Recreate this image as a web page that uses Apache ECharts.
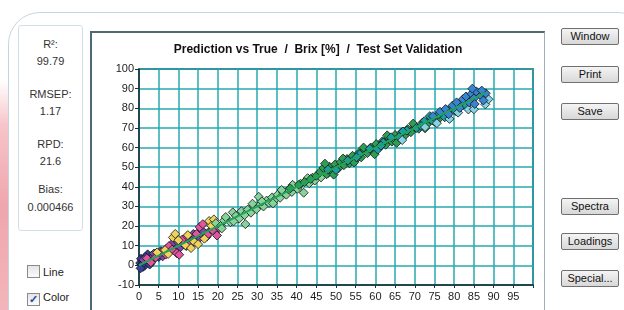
<!DOCTYPE html>
<html>
<head>
<meta charset="utf-8">
<script src="https://cdn.jsdelivr.net/npm/echarts@6/dist/echarts.min.js"></script>
<style>
  body { margin:0; width:624px; height:310px; overflow:hidden; background:#fff;
         font-family:"Liberation Sans", Arial, sans-serif; position:relative; }
  .pink { position:absolute; left:0; top:80px; width:40px; height:230px;
          background:linear-gradient(to bottom, #fff 0%, #f6c4c9 20%, #ef a6ae 55%, #f3b5bb 100%);
          background:linear-gradient(to bottom, #fff 0%, #f6c4c9 20%, #efa6ae 55%, #f3b5bb 100%); }
  .outer { position:absolute; left:8px; top:12px; width:640px; height:330px; background:#fff;
           border:1.5px solid #c9d5dd; border-radius:32px; }
  .stats { position:absolute; left:18px; top:25px; width:63px; height:204px;
           border:1px solid #d3dfe6; border-radius:3px; background:#fff;
           font-size:11px; color:#333; text-align:center; }
  .stats div { position:absolute; left:0; width:63px; }
  .cb { position:absolute; left:27px; font-size:11px; color:#222; }
  .cb span.box { display:inline-block; width:11px; height:11px; border:1px solid #8a8a8a;
                 background:linear-gradient(#e6e6e6,#fafafa); vertical-align:-2px; margin-right:3px;
                 font-size:11px; line-height:11px; color:#2a4aa0; text-align:center; font-weight:bold; }
  .frame { position:absolute; left:90px; top:31px; width:452px; height:285px; background:#fff;
           border-left:2px solid #4d6877; border-top:2px solid #4d6877; border-right:1px solid #9fb0ba; }
  #main { position:absolute; left:0; top:0; width:452px; height:279px; }
  .btn { position:absolute; left:561px; width:56px; height:15px; font-size:11px; line-height:15px;
         text-align:center; color:#111; border:1px solid #707070; border-radius:2px;
         background:linear-gradient(#f4f4f4,#d8d8d8); }
</style>
</head>
<body>
<div class="pink"></div>
<div class="outer"></div>
<div class="stats">
  <div style="top:12px">R²:</div>
  <div style="top:29px">99.79</div>
  <div style="top:62px">RMSEP:</div>
  <div style="top:79px">1.17</div>
  <div style="top:112px">RPD:</div>
  <div style="top:129px">21.6</div>
  <div style="top:157px">Bias:</div>
  <div style="top:175px">0.000466</div>
</div>
<div class="cb" style="top:265px"><span class="box"></span>Line</div>
<div class="cb" style="top:291px"><span class="box">✓</span>Color</div>
<div class="frame"><div id="main"></div></div>
<div class="btn" style="top:28px">Window</div>
<div class="btn" style="top:66px">Print</div>
<div class="btn" style="top:103px">Save</div>
<div class="btn" style="top:198px">Spectra</div>
<div class="btn" style="top:233px">Loadings</div>
<div class="btn" style="top:270px">Special...</div>
<script>
// measured (true) vs predicted Brix, grouped by marker colour
var darkBlue = [[0.3,1.2],[0.6,0.2],[0.8,2.5],[1.0,-0.8],[1.2,1.6],[1.5,3.2],[1.8,0.9],[2.0,2.4],[2.3,4.1],[2.6,1.8],[2.9,3.4],[3.2,5.0],[3.6,2.9],[4.0,4.6],[4.4,6.1],[0.5,3.4],[1.4,-0.2],[2.2,5.6],[3.0,1.2],[0.9,0.6],[0.4,-1.5],[1.6,4.4],[2.7,0.4],[5.0,4.2],[5.6,6.4]];
var purple = [[1.1,2.8],[2.4,3.0],[3.4,4.2],[4.8,5.5],[5.5,7.2],[6.2,5.4],[7.0,8.6],[7.8,7.0],[8.8,9.5],[9.5,11.2],[10.4,9.0],[11.5,12.8],[12.6,11.0],[13.5,14.4],[14.2,12.2],[15.5,15.0],[16.8,16.2],[18.0,17.5],[3.8,6.0],[6.0,4.6],[8.2,10.6],[9.0,7.6],[10.8,11.8],[12.0,9.8],[13.8,16.0],[15.0,13.2],[16.0,17.8],[17.2,14.6]];
var pink = [[2.0,3.6],[4.2,4.0],[5.8,6.8],[7.6,9.8],[8.4,8.0],[9.6,6.2],[10.2,5.4],[11.0,13.2],[12.2,14.8],[13.0,10.6],[14.6,16.0],[15.4,19.5],[16.2,21.0],[17.4,15.6],[18.6,18.0],[19.8,15.2],[20.4,19.0],[6.8,5.5],[3.0,1.5]];
var yellow = [[4.6,6.6],[6.6,7.8],[7.4,5.8],[8.6,14.2],[9.2,16.0],[10.0,12.8],[11.8,10.2],[13.2,8.8],[14.0,12.0],[15.0,10.8],[16.6,13.6],[17.8,22.6],[19.0,23.4],[18.4,20.2],[12.4,15.4]];
var lightGreen = [[19.5,21.5],[20.8,20.2],[21.6,22.8],[22.0,24.6],[23.2,22.0],[23.8,27.0],[24.6,25.2],[25.4,23.8],[26.0,27.6],[27.0,21.0],[27.6,28.4],[28.4,26.8],[29.0,30.2],[29.8,28.6],[30.4,34.9],[30.8,31.2],[31.6,30.0],[32.4,33.0],[33.0,31.8],[33.8,34.6],[34.4,33.2],[35.2,36.0],[35.8,34.4],[36.6,37.2],[37.4,36.0],[38.0,38.6],[38.8,37.4],[39.4,40.2],[40.2,39.0],[41.0,41.6],[41.8,37.0],[42.4,43.0],[43.2,41.8],[44.0,44.6],[44.6,43.2],[45.4,46.2],[46.2,44.8],[47.0,48.0],[21.0,18.8],[24.0,22.4],[26.8,25.6],[28.8,31.4],[31.2,32.6],[34.0,31.6],[36.2,38.4],[39.0,41.0],[42.8,44.4],[48.0,47.0]];
var green = [[38.4,39.2],[40.6,41.0],[42.0,42.4],[43.6,44.0],[45.0,45.6],[46.0,47.6],[46.8,49.6],[47.6,46.4],[48.4,50.2],[49.0,48.0],[49.8,51.4],[50.6,49.4],[51.2,52.6],[52.0,51.0],[52.8,54.2],[53.4,52.0],[54.2,55.8],[55.0,53.8],[55.8,57.2],[56.4,55.0],[57.2,58.6],[58.0,57.2],[58.8,60.0],[59.4,58.2],[60.2,61.8],[61.0,60.0],[61.8,63.2],[62.6,61.4],[63.4,64.8],[64.2,63.0],[65.0,66.4],[65.8,64.6],[66.6,67.6],[67.4,66.0],[68.2,69.4],[69.0,67.8],[70.0,71.0],[71.0,69.6],[72.0,72.8],[73.0,71.6],[74.0,74.6],[75.0,73.2],[47.2,51.8],[49.4,46.2],[51.8,54.4],[54.6,52.4],[57.0,60.0],[59.8,56.6],[63.0,66.2],[65.4,62.4],[69.6,72.2],[72.6,69.8],[76.4,75.2]];
var teal = [[50.0,48.6],[53.0,53.4],[56.0,56.6],[58.6,59.4],[60.6,59.0],[62.0,62.6],[64.0,65.2],[66.0,65.4],[68.0,68.6],[70.4,70.0],[72.4,73.4],[74.4,73.8],[76.0,76.8],[77.6,75.4],[79.0,79.8],[80.4,78.6],[81.6,82.4],[83.0,81.0],[48.0,48.8],[55.2,55.0],[61.4,61.0],[67.0,68.2],[71.6,71.0],[73.8,76.0]];
var blue = [[74.6,76.0],[76.4,78.2],[77.8,79.6],[78.6,77.0],[79.6,81.4],[80.6,83.0],[81.4,80.2],[82.2,84.6],[83.0,86.0],[83.8,83.0],[84.4,87.4],[85.0,85.0],[85.6,88.6],[84.6,90.0],[86.8,86.4],[87.4,84.0],[88.0,87.6],[85.2,82.2],[87.0,89.0]];
var lightCyan = [[78.8,74.6],[81.0,77.8],[83.6,79.4],[85.0,79.5],[87.9,82.0],[88.7,84.6],[72.6,70.4],[66.8,63.8],[75.6,72.4]];
var fitLine = [[0,0],[88,88]];

var myChart = echarts.init(document.getElementById('main'));
function pts(data, color) {
  return {
    type: 'scatter', data: data, symbol: 'diamond', symbolSize: 9,
    itemStyle: { color: color, borderColor: '#151515', borderWidth: 0.8, opacity: 1 }
  };
}
var axisFont = { color: '#1c1c1c', fontSize: 11, fontFamily: 'Liberation Sans, Arial' };
var option = {
  animation: false,
  title: {
    text: 'Prediction vs True  /  Brix [%]  /  Test Set Validation',
    left: 'center', top: 6,
    textStyle: { fontSize: 12, fontWeight: 'bold', color: '#111', fontFamily: 'Liberation Sans, Arial' }
  },
  grid: { left: 47, right: 11, top: 36, bottom: 27, show: true, borderColor: '#1d2d3a', borderWidth: 1.5 },
  xAxis: {
    type: 'value', min: 0, max: 100, interval: 5,
    axisLine: { onZero: false, lineStyle: { color: '#1d2d3a', width: 1.5 } },
    axisTick: { show: true, length: 3, lineStyle: { color: '#1d2d3a' } },
    axisLabel: Object.assign({ margin: 6, formatter: function (v) { return v === 100 ? '' : v; } }, axisFont),
    splitLine: { lineStyle: { color: '#25aab1', width: 1.5 } }
  },
  yAxis: {
    type: 'value', min: -10, max: 100, interval: 10,
    axisLine: { show: true, onZero: false, lineStyle: { color: '#1d2d3a', width: 1.5 } },
    axisTick: { show: true, length: 4, lineStyle: { color: '#1d2d3a' } },
    axisLabel: Object.assign({ margin: 5 }, axisFont),
    splitLine: { lineStyle: { color: '#25aab1', width: 1.5 } }
  },
  series: [
    pts(darkBlue, '#34409a'),
    pts(purple, '#7a4aa8'),
    pts(pink, '#e3549e'),
    pts(yellow, '#efd35a'),
    pts(lightGreen, '#86d49a'),
    pts(green, '#2f9e55'),
    pts(teal, '#1a9fa8'),
    pts(lightCyan, '#86d2e2'),
    pts(blue, '#3784d0'),
    { type: 'line', data: fitLine, symbol: 'none', lineStyle: { color: '#22a35c', width: 2 }, z: 5 }
  ]
};
myChart.setOption(option);
</script>
</body>
</html>
